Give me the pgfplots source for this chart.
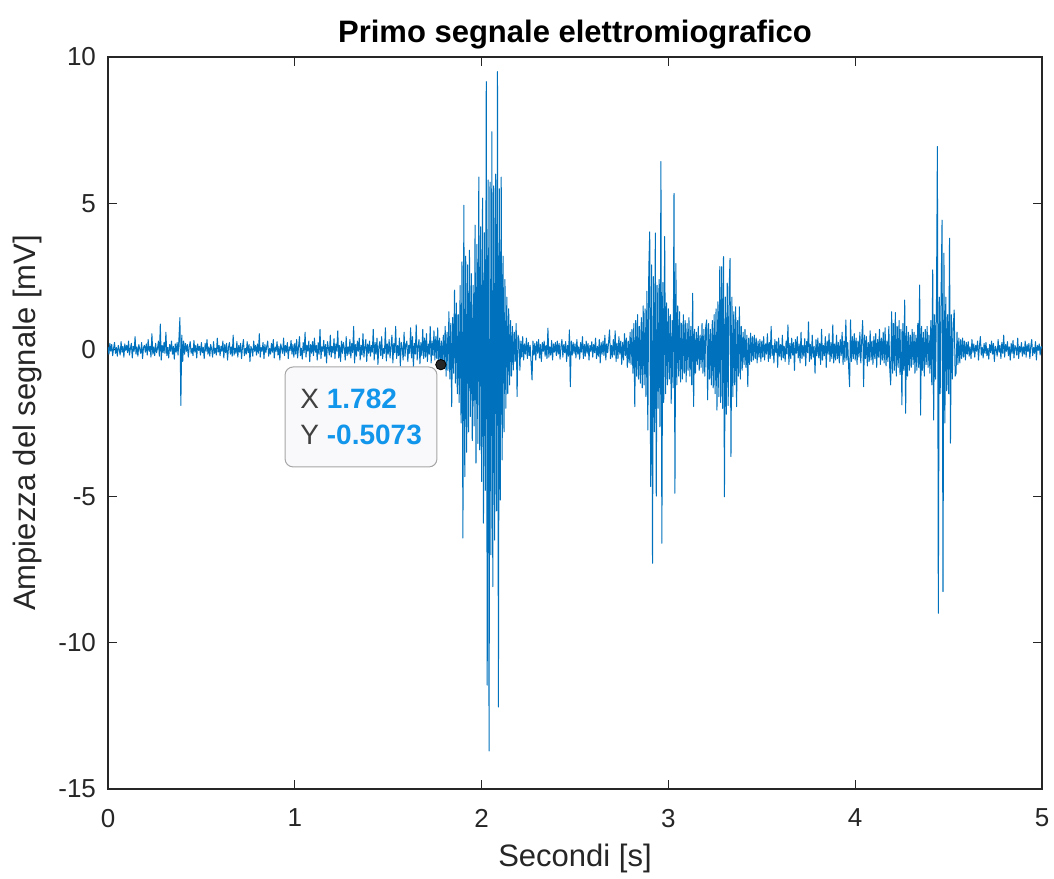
\documentclass[border=0pt]{standalone}
\usepackage{pgfplots}
\pgfplotsset{compat=1.18}
\usepackage{fontspec}
\setmainfont{Liberation Sans}
\definecolor{mblue}{RGB}{0,114,189}
\definecolor{axgray}{RGB}{38,38,38}
\definecolor{tipblue}{RGB}{18,150,235}
\definecolor{tipgray}{RGB}{64,64,64}
\definecolor{tipfill}{RGB}{249,249,251}
\begin{document}
\begin{tikzpicture}
\begin{axis}[
  scale only axis, width=467pt, height=366pt,
  xmin=0, xmax=5, ymin=-15, ymax=10,
  xtick={0,1,2,3,4,5}, xticklabels={0,1,2,3,4,5},
  ytick={-15,-10,-5,0,5,10}, yticklabels={-15,-10,-5,0,5,10},
  tick label style={font=\fontsize{13}{15}\selectfont, text=axgray},
  xticklabel style={yshift=-6.5pt},
  yticklabel style={xshift=-2.5pt},
  axis line style={draw=axgray, line width=0.6pt},
  major tick style={draw=axgray, line width=0.6pt},
  major tick length=4.5pt,
  title={\textbf{Primo segnale elettromiografico}},
  title style={font=\fontsize{15.5}{18}\selectfont, at={([yshift=1pt]axis description cs:0.5,1)}, anchor=base},
  xlabel={Secondi [s]}, ylabel={Ampiezza del segnale [mV]},
  xlabel style={font=\fontsize{15.5}{18}\selectfont, text=axgray, at={([yshift=-38.5pt]axis description cs:0.5,0)}, anchor=base},
  ylabel style={font=\fontsize{15.5}{18}\selectfont, text=axgray, at={([xshift=-36pt]axis description cs:0,0.5)}, anchor=base, rotate=0},
]
\addplot[mblue, line width=0.5pt, line join=round] table[header=false, row sep=\\, x expr=\coordindex*0.005, y index=0] {
0.10\\ -0.15\\ 0.22\\ -0.05\\ 0.18\\ -0.20\\ 0.05\\ 0.25\\ -0.12\\ 0.08\\ -0.22\\ 0.15\\ 0.02\\ -0.18\\ 0.28\\ -0.08\\ 0.12\\ -0.25\\ 0.20\\ -0.02\\
0.15\\ -0.10\\ 0.30\\ -0.18\\ 0.05\\ 0.22\\ -0.28\\ 0.12\\ -0.05\\ 0.45\\ -0.15\\ 0.10\\ -0.22\\ 0.18\\ 0.02\\ -0.12\\ 0.25\\ -0.30\\ 0.08\\ 0.15\\
-0.08\\ 0.20\\ -0.18\\ 0.35\\ -0.05\\ 0.12\\ -0.25\\ 0.55\\ -0.15\\ 0.10\\ -0.20\\ 0.22\\ -0.10\\ 0.05\\ 0.30\\ -0.22\\ 0.88\\ -0.35\\ 0.15\\ -0.10\\
0.25\\ -0.12\\ 0.60\\ -0.20\\ 0.08\\ -0.28\\ 0.18\\ -0.05\\ 0.30\\ -0.15\\ 0.12\\ -0.32\\ 0.20\\ -0.08\\ 0.25\\ -0.18\\ 0.40\\ 1.10\\ -1.90\\ 0.50\\
-0.40\\ 0.30\\ -0.15\\ 0.22\\ -0.05\\ 0.18\\ -0.25\\ 0.10\\ 0.28\\ -0.12\\ 0.05\\ -0.20\\ 0.32\\ -0.08\\ 0.15\\ -0.28\\ 0.20\\ -0.02\\ 0.12\\ -0.18\\
0.25\\ -0.10\\ 0.08\\ -0.30\\ 0.22\\ -0.05\\ 0.35\\ -0.15\\ 0.10\\ -0.22\\ 0.18\\ 0.02\\ -0.25\\ 0.28\\ -0.12\\ 0.05\\ -0.18\\ 0.40\\ -0.08\\ 0.15\\
-0.20\\ 0.12\\ -0.05\\ 0.30\\ -0.28\\ 0.18\\ -0.10\\ 0.22\\ -0.35\\ 0.08\\ 0.25\\ -0.15\\ 0.10\\ -0.22\\ 0.50\\ -0.18\\ 0.05\\ -0.12\\ 0.28\\ -0.25\\
0.15\\ -0.08\\ 0.22\\ -0.30\\ 0.10\\ 0.35\\ -0.20\\ 0.05\\ -0.15\\ 0.28\\ -0.10\\ 0.18\\ -0.40\\ 0.12\\ 0.02\\ -0.22\\ 0.30\\ -0.05\\ 0.15\\ -0.18\\
0.20\\ -0.12\\ 0.55\\ -0.25\\ 0.08\\ -0.05\\ 0.25\\ -0.30\\ 0.18\\ -0.10\\ 0.12\\ 0.30\\ -0.22\\ 0.05\\ -0.15\\ 0.22\\ -0.08\\ 0.35\\ -0.28\\ 0.10\\
-0.05\\ 0.28\\ -0.18\\ 0.12\\ -0.35\\ 0.20\\ 0.02\\ -0.12\\ 0.40\\ -0.20\\ 0.15\\ -0.08\\ 0.25\\ -0.30\\ 0.10\\ -0.02\\ 0.32\\ -0.15\\ 0.18\\ -0.25\\
0.22\\ -0.15\\ 0.35\\ -0.28\\ 0.10\\ 0.45\\ -0.20\\ 0.05\\ -0.32\\ 0.25\\ -0.10\\ 0.60\\ -0.25\\ 0.15\\ -0.05\\ 0.30\\ -0.40\\ 0.18\\ -0.12\\ 0.28\\
-0.20\\ 0.40\\ -0.08\\ 0.15\\ -0.35\\ 0.25\\ -0.15\\ 0.70\\ -0.30\\ 0.10\\ -0.05\\ 0.32\\ -0.22\\ 0.18\\ -0.45\\ 0.28\\ 0.05\\ -0.18\\ 0.50\\ -0.25\\
0.12\\ -0.10\\ 0.38\\ -0.30\\ 0.20\\ -0.05\\ 0.65\\ -0.28\\ 0.15\\ -0.40\\ 0.30\\ -0.12\\ 0.25\\ 0.05\\ -0.35\\ 0.45\\ -0.20\\ 0.10\\ -0.15\\ 0.35\\
-0.28\\ 0.22\\ -0.10\\ 0.80\\ -0.45\\ 0.18\\ -0.22\\ 0.30\\ -0.05\\ 0.40\\ -0.35\\ 0.15\\ -0.18\\ 0.55\\ -0.25\\ 0.08\\ 0.35\\ -0.40\\ 0.20\\ -0.12\\
0.30\\ -0.22\\ 0.15\\ -0.08\\ 0.70\\ -0.35\\ 0.25\\ -0.15\\ 0.40\\ -0.50\\ 0.10\\ 0.28\\ -0.20\\ 0.45\\ -0.30\\ 0.05\\ -0.12\\ 0.75\\ -0.38\\ 0.20\\
-0.15\\ 0.35\\ -0.28\\ 0.12\\ 0.50\\ -0.45\\ 0.22\\ -0.10\\ 0.80\\ -0.30\\ 0.15\\ -0.20\\ 0.40\\ -0.55\\ 0.25\\ 0.08\\ -0.35\\ 0.60\\ -0.22\\ 0.18\\
0.30\\ -0.40\\ 0.15\\ -0.12\\ 0.75\\ -0.28\\ 0.45\\ -0.60\\ 0.22\\ -0.15\\ 0.85\\ -0.35\\ 0.10\\ 0.35\\ -0.48\\ 0.25\\ -0.20\\ 0.70\\ -0.30\\ 0.40\\
-0.25\\ 0.55\\ -0.40\\ 0.20\\ -0.15\\ 0.80\\ -0.45\\ 0.30\\ -0.20\\ 0.65\\ -0.35\\ 0.45\\ -0.30\\ 0.75\\ -0.60\\ 0.40\\ -0.51\\ 0.30\\ -0.60\\ 0.50\\
-0.4\\ 0.8\\ -0.9\\ 0.6\\ -0.7\\ 1.3\\ -1.0\\ 0.9\\ -1.94\\ 1.1\\ -0.8\\ 2.04\\ -1.14\\ 1.6\\ -1.5\\ 1.2\\ -1.8\\ 2.2\\ -2.5\\ 3.0\\
-6.43\\ 4.94\\ -4.33\\ 3.2\\ -3.5\\ 2.9\\ -2.8\\ 3.4\\ -2.28\\ 2.6\\ -3.1\\ 2.2\\ -2.6\\ 4.26\\ -3.87\\ 3.6\\ -3.2\\ 5.9\\ -3.42\\ 4.2\\
-4.5\\ 5.18\\ -5.92\\ 4.0\\ -4.8\\ 9.16\\ -11.45\\ 5.8\\ -13.7\\ 5.73\\ -7.0\\ 7.45\\ -8.09\\ 5.6\\ -6.5\\ 6.0\\ -5.5\\ 9.5\\ -12.2\\ 5.5\\
-5.13\\ 5.9\\ -3.76\\ 3.2\\ -2.8\\ 2.4\\ -2.0\\ 1.8\\ -1.5\\ 1.4\\ -1.2\\ 1.0\\ -0.9\\ 0.8\\ -0.69\\ 0.6\\ -0.4\\ 0.9\\ -1.6\\ 0.5\\
0.35\\ -0.70\\ 0.30\\ -0.25\\ 0.45\\ -0.35\\ 0.20\\ -0.15\\ 0.40\\ -0.30\\ 0.25\\ -0.20\\ 0.15\\ -0.45\\ -1.03\\ 0.30\\ -0.18\\ 0.22\\ -0.35\\ 0.28\\
-0.12\\ 0.35\\ -0.28\\ 0.18\\ -0.40\\ 0.25\\ -0.05\\ 0.30\\ -0.22\\ 0.15\\ -0.30\\ 0.74\\ -0.25\\ 0.10\\ -0.18\\ 0.32\\ -0.35\\ 0.20\\ -0.08\\ 0.25\\
-0.20\\ 0.30\\ -0.15\\ 0.22\\ -0.32\\ 0.12\\ 0.35\\ -0.25\\ 0.18\\ -0.10\\ 0.28\\ -0.40\\ 0.15\\ -0.22\\ 0.68\\ -1.26\\ 0.30\\ -0.18\\ 0.25\\ -0.12\\
0.20\\ -0.28\\ 0.35\\ -0.15\\ 0.10\\ -0.32\\ 0.25\\ -0.08\\ 0.45\\ -0.30\\ 0.18\\ -0.22\\ 0.30\\ -0.12\\ 0.22\\ -0.35\\ 0.15\\ -0.05\\ 0.28\\ -0.25\\
0.18\\ -0.10\\ 0.40\\ -0.30\\ 0.12\\ -0.22\\ 0.35\\ -0.45\\ 0.25\\ -0.15\\ 0.30\\ -0.20\\ 0.50\\ -0.35\\ 0.20\\ -0.10\\ 0.28\\ 0.68\\ -0.30\\ 0.15\\
-0.25\\ 0.35\\ -0.18\\ 0.65\\ -0.40\\ 0.22\\ -0.30\\ 0.45\\ -0.15\\ 0.30\\ -0.50\\ 0.25\\ -0.35\\ 0.55\\ -0.20\\ 0.40\\ -0.60\\ 0.30\\ -0.45\\ 0.60\\
-0.5\\ 0.7\\ -0.8\\ 0.9\\ -1.94\\ 1.0\\ -0.9\\ 1.2\\ -1.0\\ 0.8\\ -1.14\\ 1.1\\ -1.3\\ 1.5\\ -1.2\\ 1.4\\ -1.6\\ 2.0\\ -2.74\\ 2.73\\
4.03\\ -4.67\\ 2.9\\ -7.29\\ 2.5\\ -2.8\\ 3.99\\ -5.0\\ 2.2\\ -2.0\\ 2.4\\ -2.63\\ 6.43\\ -6.61\\ 2.3\\ -1.8\\ 3.87\\ -1.5\\ 1.6\\ -1.2\\
1.4\\ -1.0\\ 1.2\\ -1.83\\ 1.0\\ -1.3\\ 5.34\\ -4.9\\ 2.95\\ -1.2\\ 1.5\\ -0.9\\ 1.3\\ -1.1\\ 0.9\\ -1.0\\ 1.2\\ -0.8\\ 1.0\\ -1.1\\
0.9\\ -0.7\\ 1.1\\ -0.9\\ 0.8\\ -1.2\\ 1.93\\ -1.94\\ 0.7\\ -0.8\\ 0.6\\ -0.5\\ 0.8\\ -0.7\\ 0.5\\ -0.6\\ 0.9\\ -0.8\\ 0.7\\ -0.9\\
0.8\\ 1.02\\ -1.71\\ 0.9\\ -1.0\\ 0.7\\ -1.2\\ 1.0\\ -1.3\\ 1.2\\ -1.5\\ 1.4\\ -2.06\\ 1.64\\ -1.6\\ 2.84\\ -1.8\\ 2.84\\ -2.0\\ 3.18\\
-5.02\\ 1.8\\ -2.2\\ 2.28\\ -1.9\\ 2.0\\ 3.12\\ -3.65\\ 1.8\\ -1.6\\ 1.3\\ -1.2\\ 1.47\\ -1.94\\ 1.0\\ -0.9\\ 1.47\\ -1.0\\ 0.8\\ -0.7\\
0.6\\ -0.5\\ 0.7\\ -0.6\\ 0.5\\ -1.26\\ 0.4\\ -0.5\\ 0.57\\ -0.4\\ 0.45\\ -0.35\\ 0.5\\ -0.3\\ 0.4\\ -0.45\\ 0.3\\ -0.25\\ 0.35\\ -0.4\\
0.30\\ -0.25\\ 0.45\\ -0.35\\ 0.20\\ -0.15\\ 0.55\\ -0.40\\ 0.25\\ -0.30\\ 0.80\\ -0.20\\ 0.15\\ -0.45\\ 0.35\\ -0.10\\ 0.28\\ -0.60\\ 0.40\\ -0.22\\
0.18\\ -0.35\\ 0.50\\ -0.28\\ 0.12\\ -0.40\\ 0.30\\ -0.15\\ 0.85\\ -0.50\\ 0.22\\ -0.30\\ 0.40\\ -0.18\\ 0.25\\ -0.70\\ 0.35\\ -0.12\\ 0.45\\ -0.28\\
0.20\\ -0.45\\ 0.60\\ -0.30\\ 0.15\\ -0.22\\ 0.38\\ -0.55\\ 0.28\\ -0.10\\ 0.95\\ -0.40\\ 0.18\\ -0.32\\ 0.50\\ -0.25\\ 0.12\\ -0.80\\ 0.35\\ -0.20\\
0.40\\ -0.28\\ 0.22\\ -0.50\\ 0.70\\ -0.35\\ 0.15\\ -0.20\\ 0.45\\ -0.60\\ 0.30\\ -0.15\\ 0.55\\ -0.40\\ 0.25\\ -0.30\\ 0.85\\ -0.45\\ 0.20\\ -0.35\\
0.50\\ -0.30\\ 0.25\\ -0.45\\ 0.35\\ -0.20\\ 0.60\\ -0.50\\ 0.30\\ -0.40\\ 1.02\\ -0.35\\ 0.25\\ -0.60\\ -1.26\\ 1.02\\ -0.40\\ 0.45\\ -0.30\\ 0.55\\
-0.35\\ 0.40\\ -0.50\\ 0.30\\ -0.25\\ 0.60\\ -0.45\\ 0.35\\ 1.00\\ -1.26\\ 0.50\\ -0.30\\ 0.45\\ -0.55\\ 0.25\\ -0.40\\ 0.65\\ -0.35\\ 0.30\\ -0.50\\
0.45\\ -0.30\\ 0.55\\ -0.60\\ 0.35\\ -0.25\\ 0.70\\ -0.50\\ 0.40\\ -0.35\\ 0.60\\ -0.45\\ 0.75\\ -0.55\\ 0.30\\ -0.40\\ 0.80\\ -0.65\\ -1.20\\ 1.30\\
-0.80\\ 0.90\\ -0.70\\ 1.27\\ -0.90\\ 0.80\\ -0.60\\ 1.0\\ -0.85\\ 0.70\\ -1.88\\ 0.9\\ -0.7\\ 1.7\\ -2.17\\ 0.8\\ -0.9\\ 0.6\\ -0.7\\ 0.5\\
-0.6\\ 0.7\\ -0.5\\ 0.6\\ -0.8\\ 0.5\\ -0.7\\ 0.9\\ -0.6\\ 2.21\\ -2.23\\ 0.8\\ -0.7\\ 0.6\\ -0.9\\ 0.7\\ -0.5\\ 0.8\\ -0.6\\ 0.5\\
-0.8\\ 1.0\\ -1.2\\ 2.73\\ -2.4\\ 1.2\\ -1.0\\ 1.5\\ 6.94\\ -9.0\\ 1.8\\ -1.5\\ 2.0\\ 4.43\\ -8.26\\ 3.3\\ -2.5\\ 1.8\\ -1.4\\ 1.2\\
-1.5\\ 3.81\\ -3.19\\ 1.2\\ -1.0\\ 0.8\\ 1.36\\ -0.9\\ -0.8\\ 0.6\\ -0.5\\ 0.4\\ -0.45\\ 0.35\\ -0.3\\ 0.4\\ -0.25\\ 0.3\\ -0.35\\ 0.25\\
-0.15\\ 0.28\\ -0.22\\ 0.10\\ -0.30\\ 0.35\\ -0.08\\ 0.20\\ -0.25\\ 0.15\\ -0.05\\ 0.30\\ -0.35\\ 0.12\\ 0.45\\ -0.18\\ 0.08\\ -0.28\\ 0.22\\ -0.12\\
0.25\\ -0.20\\ 0.05\\ -0.32\\ 0.18\\ -0.10\\ 0.30\\ -0.15\\ 0.22\\ -0.40\\ 0.12\\ 0.02\\ -0.22\\ 0.35\\ -0.08\\ 0.15\\ -0.30\\ 0.25\\ -0.12\\ 0.50\\
-0.25\\ 0.18\\ -0.05\\ 0.28\\ -0.20\\ 0.10\\ -0.35\\ 0.22\\ -0.12\\ 0.32\\ -0.28\\ 0.15\\ 0.05\\ -0.18\\ 0.40\\ -0.30\\ 0.12\\ -0.08\\ 0.25\\ -0.22\\
0.10\\ -0.15\\ 0.30\\ -0.25\\ 0.18\\ -0.05\\ 0.22\\ -0.30\\ 0.12\\ 0.35\\ -0.20\\ 0.08\\ -0.12\\ 0.28\\ -0.35\\ 0.15\\ -0.02\\ 0.20\\ -0.18\\ 0.12\\
0.05\\
};
\draw[draw=black!35, fill=tipfill, rounded corners=4pt, line width=0.5pt] (axis cs:0.948,-0.587) rectangle (axis cs:1.761,-4.0);
\node[anchor=base west, inner sep=0pt, font=\fontsize{14}{16}\selectfont] at (axis cs:1.028,-1.99) {\textcolor{tipgray}{X} \textcolor{tipblue}{\textbf{1.782}}};
\node[anchor=base west, inner sep=0pt, font=\fontsize{14}{16}\selectfont] at (axis cs:1.028,-3.25) {\textcolor{tipgray}{Y} \textcolor{tipblue}{\textbf{-0.5073}}};
\addplot[only marks, mark=*, mark size=2.6pt, mark options={fill=black!85, draw=black}] coordinates {(1.782,-0.5073)};
\coordinate (SW) at (rel axis cs:0,0);
\coordinate (NE) at (rel axis cs:1,1);
\end{axis}
\pgfresetboundingbox
\useasboundingbox ([shift={(-54pt,-44.5pt)}]SW) rectangle ([shift={(6pt,28.5pt)}]NE);
\end{tikzpicture}
\end{document}
